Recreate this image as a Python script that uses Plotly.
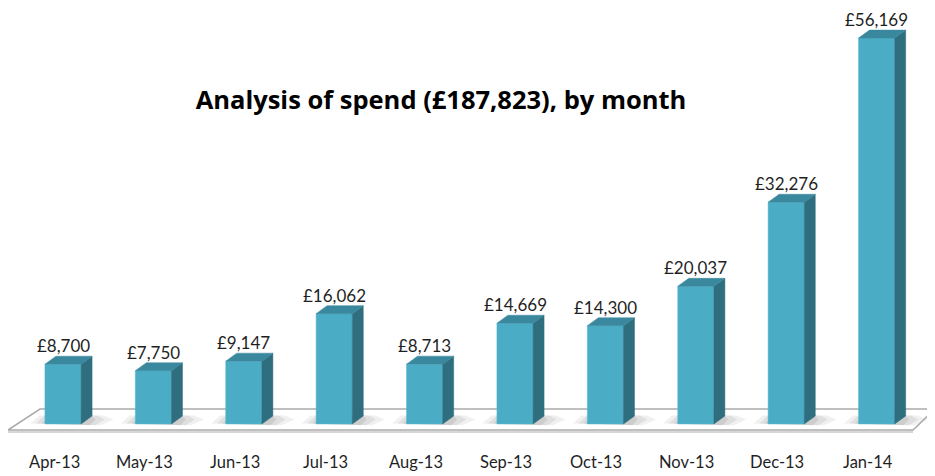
import plotly.graph_objects as go

months = ["Apr-13", "May-13", "Jun-13", "Jul-13", "Aug-13", "Sep-13",
          "Oct-13", "Nov-13", "Dec-13", "Jan-14"]
spend = [8700, 7750, 9147, 16062, 8713, 14669, 14300, 20037, 32276, 56169]
labels = ["£8,700", "£7,750", "£9,147", "£16,062", "£8,713", "£14,669",
          "£14,300", "£20,037", "£32,276", "£56,169"]
title = "Analysis of spend (£187,823), by month"

# page has an 8px body margin; figure is sized to fill the rest of the window
OFF = 8
W, H = 935 - OFF, 476 - OFF
px_per_x = 90.4
px_per_y = 0.00687
x0_px = 63 - OFF
base_px = 424 - OFF
mb = 28
plot_h = H - mb


def X(p):
    return (p - OFF - x0_px) / px_per_x


def Y(p):
    return (base_px - (p - OFF)) / px_per_y


xr = [(0 - x0_px) / px_per_x, (W - x0_px) / px_per_x]
yr = [-(plot_h - base_px) / px_per_y, base_px / px_per_y]

bw = 0.40
dx = 11 / px_per_x
dy = 8 / px_per_y

FRONT = "#4BACC6"
TOP = "#3A889E"
SIDE = "#2F6E7F"

fig = go.Figure()

shapes = []
# soft shadows on the floor (layered for a gradient)
for i, v in enumerate(spend):
    l = i - bw / 2
    r = i + bw / 2
    for k, (ex_l, ex_r, op) in enumerate([(0.16, 0.36, 0.10), (0.10, 0.26, 0.12),
                                          (0.04, 0.16, 0.16)]):
        pts = [(l - ex_l, dy * 0.05), (r + ex_r * 0.6, -dy * 0.15),
               (r + ex_r, dy * 0.55), (r + ex_r * 0.7, dy * 1.05),
               (l - ex_l + 0.1, dy * 1.05)]
        path = "M " + " L ".join(f"{a},{b}" for a, b in pts) + " Z"
        shapes.append(dict(type="path", path=path, xref="x", yref="y", layer="below",
                           fillcolor=f"rgba(110,110,110,{op})", line=dict(width=0)))
# floor outline
fpts = [(X(8), Y(430)), (X(913), Y(430)), (X(935), Y(409)), (X(40), Y(409))]
fpath = "M " + " L ".join(f"{a},{b}" for a, b in fpts) + " Z"
shapes.append(dict(type="path", path=fpath, xref="x", yref="y", layer="below",
                   fillcolor="rgba(0,0,0,0)", line=dict(color="#ABABAB", width=1.5)))
shapes.append(dict(type="line", x0=X(8), x1=X(913), y0=Y(432), y1=Y(432),
                   xref="x", yref="y", layer="below",
                   line=dict(color="#D6D6D6", width=2)))

# side and top faces
for i, v in enumerate(spend):
    r = i + bw / 2
    l = i - bw / 2
    fig.add_trace(go.Scatter(x=[r, r + dx, r + dx, r, r], y=[0, dy, v + dy, v, 0],
                             mode="lines", fill="toself", fillcolor=SIDE,
                             line=dict(color=SIDE, width=0.5),
                             hoverinfo="skip", showlegend=False))
    fig.add_trace(go.Scatter(x=[l, r, r + dx, l + dx, l], y=[v, v, v + dy, v + dy, v],
                             mode="lines", fill="toself", fillcolor=TOP,
                             line=dict(color=TOP, width=0.5),
                             hoverinfo="skip", showlegend=False))

# front faces
fig.add_trace(go.Bar(x=list(range(len(months))), y=spend, width=bw,
                     marker=dict(color=FRONT, line=dict(color="#5BB8D0", width=0.5)),
                     showlegend=False, hoverinfo="skip"))

for i, (v, t) in enumerate(zip(spend, labels)):
    fig.add_annotation(x=i, y=v, text=t, showarrow=False, yanchor="bottom",
                       yshift=6, font=dict(family="Lato", size=17, color="#1F1F1F"))
for i, m in enumerate(months):
    fig.add_annotation(x=i, y=0, yref="paper", text=m, showarrow=False,
                       yanchor="middle", xshift=-9, yshift=-(462 - OFF - plot_h),
                       font=dict(family="Lato", size=16.5, color="#1F1F1F"))

fig.update_layout(
    width=W, height=H,
    margin=dict(l=0, r=0, t=0, b=mb),
    paper_bgcolor="white", plot_bgcolor="white",
    title=dict(text="<b>" + title + "</b>", x=(441 - OFF) / W, xanchor="center",
               y=1 - (100 - OFF) / H, yanchor="middle",
               font=dict(family="Open Sans", size=25.5, color="#000000")),
    xaxis=dict(range=xr, visible=False, fixedrange=True),
    yaxis=dict(range=yr, visible=False, fixedrange=True),
    barmode="overlay",
    shapes=shapes,
)

fig.write_html("out.html")
